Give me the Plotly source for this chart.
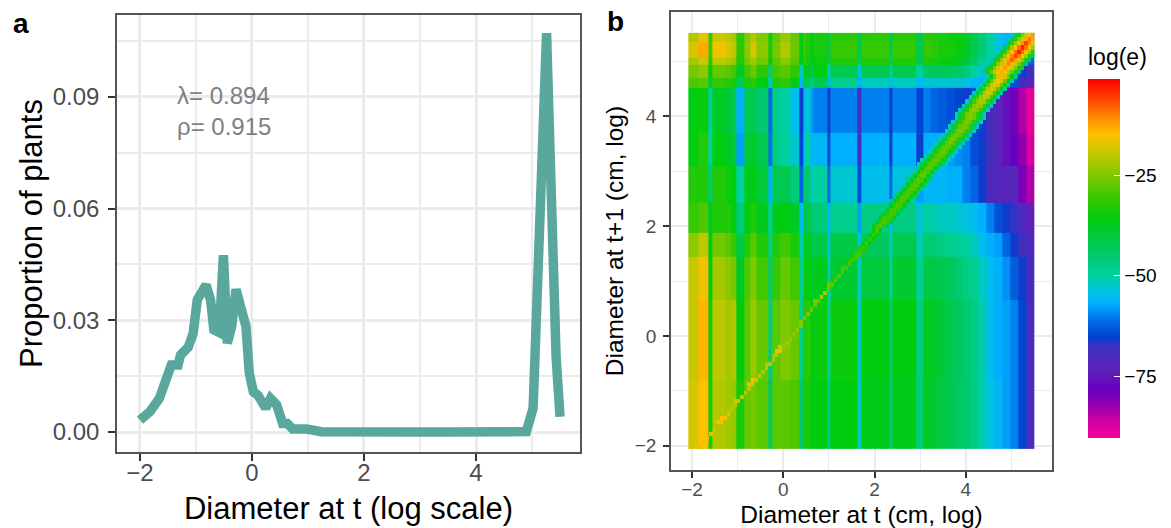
import plotly.graph_objects as go
import numpy as np

W, H = 1171, 528
FONT = "Liberation Sans"

# Panel a: size distribution
diam_t = [-2.0, -1.82, -1.655, -1.55, -1.44, -1.32, -1.275, -1.14, -1.05, -0.977, -0.82, -0.74, -0.68, -0.584,
          -0.51, -0.44, -0.363, -0.285, -0.185, -0.107, -0.048, 0.024, 0.11, 0.245, 0.33, 0.44, 0.548, 0.63,
          0.726, 0.976, 1.24, 1.57, 2.0, 2.5, 3.0, 3.5, 4.0, 4.5, 4.9, 5.02, 5.26, 5.43, 5.5]
proportion = [0.0032, 0.0055, 0.0090, 0.0131, 0.0180, 0.0180, 0.0207, 0.0227, 0.0265, 0.0355, 0.0395, 0.0355,
              0.0274, 0.0267, 0.0475, 0.0238, 0.0283, 0.0383, 0.0328, 0.0283, 0.0158, 0.0108, 0.0098, 0.0064,
              0.0090, 0.0073, 0.0023, 0.0023, 0.0008, 0.0008, 0.0001, 0.0002, 0.0, 0.0, 0.0, 0.0, 0.0, 0.0,
              0.0001, 0.0064, 0.1071, 0.0202, 0.0041]
stats_text = "λ= 0.894<br>ρ= 0.915"

# Panel b: elasticity surface, irregular bands
band_x = [-2.08, -1.86, -1.64, -1.55, -1.27, -1.14, -1.02, -0.86, -0.73, -0.60, -0.33, -0.25, -0.07, 0.15, 0.35,
          0.43, 0.49, 0.59, 0.66, 0.96, 1.04, 1.63, 1.72, 2.32, 2.40, 2.92, 3.06, 3.23, 3.41, 3.58, 3.76, 3.93,
          4.11, 4.28, 4.46, 4.63, 4.81, 4.98, 5.16, 5.33, 5.51]
band_y = [-2.06, -0.80, 0.65, 1.44, 1.87, 2.42, 3.09, 3.70, 4.52, 4.70, 4.93, 5.06, 5.35, 5.52]
band_z = [  # bottom row first
 [-18,-15,-34,-21,-22,-23,-34,-27,-26,-28,-44,-28,-28,-29,-45,-33,-34,-36,-36,-47,-36,-52,-37,-46,-37,-46,-38,-39,-41,-42,-44,-45,-47,-51,-54,-56,-58,-60,-65,-69],
 [-19,-14,-34,-20,-22,-21,-36,-28,-23,-27,-47,-28,-25,-27,-48,-34,-32,-36,-35,-50,-35,-52,-36,-46,-36,-47,-37,-38,-40,-42,-43,-45,-47,-51,-55,-57,-58,-60,-65,-69],
 [-19,-16,-36,-22,-24,-26,-38,-29,-25,-30,-46,-31,-27,-30,-49,-34,-36,-38,-37,-52,-39,-52,-40,-50,-39,-49,-41,-41,-42,-43,-45,-47,-48,-52,-55,-57,-59,-63,-66,-69],
 [-24,-20,-37,-26,-28,-31,-41,-33,-28,-33,-48,-33,-30,-34,-51,-36,-38,-41,-41,-54,-41,-54,-43,-52,-42,-51,-45,-46,-47,-48,-49,-50,-52,-55,-57,-58,-62,-66,-68,-70],
 [-31,-29,-38,-33,-33,-36,-46,-36,-33,-37,-50,-37,-36,-38,-55,-40,-42,-44,-46,-56,-48,-58,-47,-54,-47,-53,-50,-51,-52,-52,-53,-54,-55,-57,-60,-64,-66,-67,-70,-74],
 [-33,-33,-45,-33,-35,-36,-50,-37,-36,-40,-57,-42,-42,-46,-62,-46,-44,-52,-50,-62,-53,-64,-55,-62,-54,-58,-56,-56,-56,-57,-57,-60,-62,-66,-70,-72,-72,-72,-80,-84],
 [-36,-33,-50,-36,-38,-40,-58,-40,-38,-42,-61,-47,-50,-53,-65,-54,-50,-56,-56,-65,-57,-68,-57,-66,-57,-66,-57,-57,-57,-58,-59,-60,-64,-66,-68,-72,-76,-78,-82,-87],
 [-36,-35,-50,-38,-40,-42,-57,-42,-42,-45,-62,-48,-50,-55,-66,-56,-53,-58,-60,-66,-60,-68,-60,-66,-60,-65,-60,-62,-63,-64,-65,-66,-64,-66,-69,-72,-76,-79,-84,-89],
 [-29,-28,-40,-31,-32,-34,-42,-33,-32,-36,-52,-33,-32,-37,-56,-42,-42,-47,-42,-56,-48,-57,-52,-55,-52,-55,-53,-53,-53,-53,-53,-54,-56,-57,-60,-62,-62,-64,-68,-72],
 [-26,-24,-36,-27,-28,-30,-38,-30,-27,-32,-47,-30,-28,-32,-52,-37,-38,-42,-36,-52,-42,-54,-42,-50,-42,-50,-44,-43,-43,-43,-44,-46,-50,-53,-56,-58,-60,-60,-66,-68],
 [-22,-19,-32,-20,-21,-23,-33,-26,-22,-26,-35,-28,-24,-28,-37,-31,-34,-37,-35,-42,-33,-43,-33,-43,-33,-42,-33,-34,-35,-36,-37,-40,-44,-48,-52,-55,-57,-56,-56,-62],
 [-18,-13,-30,-16,-18,-20,-32,-24,-18,-24,-34,-26,-21,-27,-36,-30,-33,-36,-34,-42,-31,-42,-31,-43,-31,-42,-31,-32,-34,-34,-35,-38,-42,-46,-50,-54,-56,-54,-50,-45],
 [-21,-17,-31,-19,-20,-22,-32,-25,-21,-25,-34,-27,-23,-27,-36,-30,-33,-36,-34,-42,-32,-42,-32,-43,-32,-42,-32,-33,-34,-35,-36,-38,-42,-46,-50,-54,-56,-54,-50,-45],
]

# The one-to-one ridge, cell by cell on the fine grid (bottom row first, left to right)
grid_x = (-2.077, 5.51)
grid_y = (-2.06, 5.52)
grid_cells = 100
ridge_shift = [3, 3, 3, 2, 2, 2, 2, 2, 1, 0]   # columns right of the 1:1 cell, per ten rows
ridge_rows = [
 [-17,-17],[-16],[-15,-16],[-17],[-19],[],[-16,-15],[-15,-15],[-18],[-20],
 [-20],[-19,-20],[-20],[-21],[-20],[-18,-17],[-15,-18],[-20],[-22],[-21],
 [-22,-21],[-21],[-23,-20],[-17,-17],[-19,-23],[-22],[-23],[-24],[-23],[-25],
 [-24],[-26],[-25],[-26],[-27],[-25,-27],[-21],[-22],[-26],[-27,-28],
 [-28],[-28],[-29],[-30,-29],[-30],[-33,-30,-33],[-34,-29,-30],[-33,-30,-32],[-34,-31,-34],[-36,-30,-35],
 [-38,-31,-36],[-38,-31,-37],[-36,-30,-37],[-38,-31,-29,-31,-40],[-39,-31,-29,-31,-40],[-38,-31,-30,-31,-39],[-40,-32,-29,-31,-38],[-39,-31,-29,-32,-41],
 [-46,-37,-31,-29,-31,-37,-46],[-47,-37,-31,-29,-31,-37,-47],
 [-47,-37,-30,-29,-30,-37,-46],[-46,-36,-30,-29,-31,-36,-47],[-47,-37,-31,-29,-30,-37,-47],[-47,-37,-30,-28,-30,-36,-47],[-47,-36,-30,-28,-30,-37,-46],
 [-47,-37,-30,-28,-30,-37,-47],[-47,-36,-30,-28,-30,-37,-47],[-47,-37,-30,-28,-29,-36,-47],
 [-52,-44,-35,-29,-28,-29,-35,-44,-52],[-52,-44,-35,-29,-28,-29,-35,-45,-52],
 [-52,-44,-35,-29,-28,-28,-35,-44,-53],[-52,-44,-34,-29,-27,-29,-35,-45,-53],
 [-52,-44,-34,-28,-27,-28,-34,-44,-52],[-52,-43,-34,-28,-27,-28,-34,-44,-53],[-52,-43,-33,-28,-26,-28,-33,-43,-52],
 [-52,-43,-33,-28,-26,-28,-33,-44,-52],[-52,-43,-33,-27,-26,-27,-33,-43,-53],[-52,-42,-33,-27,-26,-27,-33,-43,-52],[-52,-42,-32,-27,-25,-27,-32,-43,-52],[-52,-42,-32,-26,-25,-26,-32,-42,-52],
 [-52,-42,-32,-26,-24,-26,-32,-42,-52],[-52,-42,-31,-25,-23,-25,-31,-42,-52],[-52,-41,-31,-25,-22,-24,-31,-41,-52],[-52,-41,-30,-24,-21,-23,-30,-41,-51],[-51,-40,-30,-23,-19,-22,-30,-40,-51],
 [-51,-40,-29,-22,-18,-21,-29,-40,-51],[-50,-39,-28,-21,-17,-20,-28,-39,-50],[-50,-38,-28,-20,-16,-19,-28,-39,-50],[-49,-38,-27,-19,-15,-18,-27,-38,-49],[-49,-37,-26,-19,-14,-18,-26,-37,-49],
 [-44,-34,-26,-20,-16,-13,-16,-20,-26,-34,-44],[-44,-33,-25,-19,-15,-12,-15,-19,-25,-33,-44],[-44,-33,-25,-18,-14,-10,-14,-18,-25,-33,-44],[-43,-32,-24,-17,-12,-8,-12,-17,-24,-32,-43],[-43,-32,-23,-16,-10,-6,-10,-16,-23,-32,-43],
 [-42,-31,-22,-15,-9,-3,-9,-15,-22,-31,-42],[-42,-31,-22,-15,-9,-4,-9,-15,-22,-31,-42],[-42,-31,-23,-16,-11,-6,-11,-16,-23,-31,-42],[-43,-32,-24,-18,-13,-9,-13,-18,-24,-32,-43],[-44,-33,-25,-19,-15,-12,-15,-19,-25,-33,-44],
]

# Colour bar
cbar_values = [-90.4, -86, -82, -78, -74, -67.5, -65.5, -61, -57, -54.5, -50, -43.5, -36, -30, -25, -19, -15, -11, -7, -1.1]
cbar_colors = ["#f0009a", "#d000a0", "#9000b0", "#6800c0", "#6020b8", "#4030c0", "#0040d0", "#0070e8", "#00b0ff",
               "#00c0e8", "#00d0a0", "#00c860", "#00cc10", "#40c800", "#80c800", "#c8c800", "#ffc000", "#ff9000",
               "#ff5000", "#ff0000"]
cbar_ticks = [-75, -50, -25]

zmin, zmax = cbar_values[0], cbar_values[-1]
colorscale = [[(v - zmin) / (zmax - zmin), c] for v, c in zip(cbar_values, cbar_colors)]

# Ridge matrix
ridge_z = [[None] * grid_cells for _ in range(grid_cells)]
for i, cells in enumerate(ridge_rows):
    start = i + ridge_shift[i // 10] - len(cells) // 2
    for k, val in enumerate(cells):
        j = start + k
        if 0 <= j < grid_cells:
            ridge_z[i][j] = val

fig = go.Figure()
fig.add_trace(go.Scatter(x=diam_t, y=proportion, mode="lines", line=dict(color="#5aa89d", width=9.5),
                         showlegend=False, xaxis="x", yaxis="y"))
fig.add_trace(go.Heatmap(x=band_x, y=band_y, z=band_z, coloraxis="coloraxis", xaxis="x2", yaxis="y2"))
fig.add_trace(go.Heatmap(x=np.linspace(*grid_x, grid_cells + 1), y=np.linspace(*grid_y, grid_cells + 1), z=ridge_z,
                         coloraxis="coloraxis", xaxis="x2", yaxis="y2", hoverongaps=False))


def dom_x(a, b):
    return [a / W, b / W]


def dom_y(top, bottom):
    return [1 - bottom / H, 1 - top / H]


GRID = "#ebebeb"
common = dict(showline=True, mirror=True, linecolor="#555555", linewidth=1.5, ticks="outside", tickwidth=2,
              tickcolor="#333333", gridcolor=GRID, zeroline=False, layer="below traces")

BAR_L, BAR_R, BAR_T, BAR_B = 1088, 1120, 79, 438
fig.update_layout(
    width=W, height=H, autosize=False, margin=dict(l=0, r=0, t=0, b=0), paper_bgcolor="white", plot_bgcolor="white",
    font=dict(family=FONT, color="#000000"), showlegend=False,
    xaxis=dict(domain=dom_x(117, 580), range=[-2.41, 5.857], dtick=2, tick0=0, gridwidth=2.5, ticklen=7,
               ticklabelstandoff=-9,
               minor=dict(dtick=1, tick0=0, showgrid=True, gridcolor=GRID, gridwidth=1.5, ticks=""),
               tickfont=dict(size=24, color="#4d4d4d"),
               title=dict(text="Diameter at t (log scale)", font=dict(size=31), standoff=13), **common),
    yaxis=dict(domain=dom_y(15, 452), range=[-0.00537, 0.112], tickvals=[0, 0.03, 0.06, 0.09], tickformat=".2f",
               gridwidth=2.5, ticklen=7, ticklabelstandoff=4,
               minor=dict(tickvals=[0.015, 0.045, 0.075, 0.105], showgrid=True, gridcolor=GRID, gridwidth=1.5, ticks=""),
               tickfont=dict(size=24, color="#4d4d4d"),
               title=dict(text="Proportion of plants", font=dict(size=31), standoff=1), **common),
    xaxis2=dict(domain=dom_x(671, 1052), range=[-2.46, 5.89], dtick=2, tick0=0, gridwidth=2, ticklen=6,
                ticklabelstandoff=-5,
                minor=dict(dtick=1, tick0=0, showgrid=True, gridcolor=GRID, gridwidth=1.2, ticks=""),
                tickfont=dict(size=19, color="#4d4d4d"),
                title=dict(text="Diameter at t (cm, log)", font=dict(size=24.5), standoff=7), anchor="y2", **common),
    yaxis2=dict(domain=dom_y(12, 470), range=[-2.44, 5.90], dtick=2, tick0=0, gridwidth=2, ticklen=6,
                ticklabelstandoff=3,
                minor=dict(dtick=1, tick0=0, showgrid=True, gridcolor=GRID, gridwidth=1.2, ticks=""),
                tickfont=dict(size=19, color="#4d4d4d"),
                title=dict(text="Diameter at t+1 (cm, log)", font=dict(size=24.5), standoff=4), anchor="x2", **common),
    coloraxis=dict(cmin=zmin, cmax=zmax, colorscale=colorscale,
                   colorbar=dict(x=BAR_L / W, xanchor="left", xpad=0, ypad=0, y=1 - BAR_B / H, yanchor="bottom",
                                 len=(BAR_B - BAR_T) / H, lenmode="fraction", thickness=BAR_R - BAR_L,
                                 thicknessmode="pixels", outlinewidth=0, tickvals=cbar_ticks, ticks="inside",
                                 tickcolor="white", ticklen=6, tickwidth=1,
                                 tickfont=dict(size=19, color="#000000"))),
    annotations=[
        dict(text="a", x=11 / W, y=1 - 24 / H, xref="paper", yref="paper", xanchor="left", yanchor="middle",
             showarrow=False, font=dict(size=28, color="black", family=FONT, weight="bold")),
        dict(text="b", x=605 / W, y=1 - 22 / H, xref="paper", yref="paper", xanchor="left", yanchor="middle",
             showarrow=False, font=dict(size=28, color="black", family=FONT, weight="bold")),
        dict(text=stats_text, x=175 / W, y=1 - 111 / H, xref="paper", yref="paper", xanchor="left", yanchor="middle",
             align="left", showarrow=False, font=dict(size=24, color="#7f7f7f", family=FONT)),
        dict(text="log(e)", x=1086 / W, y=1 - 57 / H, xref="paper", yref="paper", xanchor="left", yanchor="middle",
             showarrow=False, font=dict(size=23, color="black", family=FONT)),
    ],
    shapes=[dict(type="line", xref="paper", yref="paper", x0=BAR_L / W, x1=(BAR_L + 6) / W,
                 y0=1 - (BAR_T + (zmax - v) / (zmax - zmin) * (BAR_B - BAR_T)) / H,
                 y1=1 - (BAR_T + (zmax - v) / (zmax - zmin) * (BAR_B - BAR_T)) / H,
                 line=dict(color="white", width=1)) for v in cbar_ticks],
)

fig.write_html("out.html", config=dict(displayModeBar=False), post_script="document.body.style.margin='0';")
